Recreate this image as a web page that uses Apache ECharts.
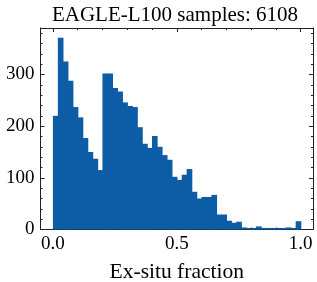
<!DOCTYPE html>
<html><head><meta charset="utf-8">
<script src="https://cdn.jsdelivr.net/npm/echarts@6/dist/echarts.min.js"></script>
<style>html,body{margin:0;padding:0;background:#fff}#c{width:317px;height:282px}</style>
</head><body><div id="c"></div>
<script>
// Histogram of ex-situ fraction, 50 bins from 0 to 1
const binStart = 0.0;
const binWidth = 0.02;
const counts = [220,371,325,288,237,217,177,150,137,115,
                302,302,274,267,246,239,237,198,166,158,
                181,160,144,135,102,96,106,117,73,60,
                63,63,67,29,29,17,13,15,4,3,
                3,6,3,3,3,3,3,4,3,16];
const xMajorTicks = [0, 0.5, 1.0];
const xMinorTicks = [0.1,0.2,0.3,0.4,0.6,0.7,0.8,0.9];
const yMajorTicks = [0, 100, 200, 300];
const yMinorTicks = [20,40,60,80,120,140,160,180,220,240,260,280,320,340,360,380];
const titleText = 'EAGLE-L100 samples: 6108';
const xLabel = 'Ex-situ fraction';

const data = counts.map((c, i) => [binStart + i * binWidth, binStart + (i + 1) * binWidth, c]);

const FONT = 'Liberation Serif';
const AX = '#222';
const XMIN = -0.05, XMAX = 1.05, YMIN = 0, YMAX = 390;

function xAx(pos, ticks, len, labels, line) {
  return {
    type: 'value', position: pos, min: XMIN, max: XMAX,
    axisLine: {show: line, onZero: false, lineStyle: {color: AX, width: 1}},
    axisTick: {show: true, inside: true, length: len, customValues: ticks, lineStyle: {color: AX, width: 1}},
    axisLabel: {show: labels, customValues: ticks, fontFamily: FONT, fontSize: 19, color: '#000', margin: 5,
                formatter: v => v.toFixed(1)},
    splitLine: {show: false},
    name: (labels ? xLabel : ''), nameLocation: 'middle', nameGap: 32,
    nameTextStyle: {fontFamily: FONT, fontSize: 21.5, color: '#000'}
  };
}
function yAx(pos, ticks, len, labels, line) {
  return {
    type: 'value', position: pos, min: YMIN, max: YMAX,
    axisLine: {show: line, onZero: false, lineStyle: {color: AX, width: 1}},
    axisTick: {show: true, inside: true, length: len, customValues: ticks, lineStyle: {color: AX, width: 1}},
    axisLabel: {show: labels, customValues: ticks, fontFamily: FONT, fontSize: 19, color: '#000', margin: 6},
    splitLine: {show: false}
  };
}

const chart = echarts.init(document.getElementById('c'), null, {renderer: 'canvas'});
chart.setOption({
  animation: false,
  title: {text: titleText, left: 170, top: 0, textAlign: 'center',
          textStyle: {fontFamily: FONT, fontSize: 21, fontWeight: 'normal', color: '#000'}},
  grid: {left: 40.5, top: 28, right: 4, bottom: 52.5, outerBoundsMode: 'none'},
  xAxis: [
    xAx('bottom', xMajorTicks, 4, true, true),
    xAx('bottom', xMinorTicks, 2, false, false),
    xAx('top', xMajorTicks, 4, false, true),
    xAx('top', xMinorTicks, 2, false, false)
  ],
  yAxis: [
    yAx('left', yMajorTicks, 4, true, true),
    yAx('left', yMinorTicks, 2, false, false),
    yAx('right', yMajorTicks, 4, false, true),
    yAx('right', yMinorTicks, 2, false, false)
  ],
  series: [{
    type: 'custom', xAxisIndex: 0, yAxisIndex: 0, data: data, z: 1,
    renderItem: (params, api) => {
      const p0 = api.coord([api.value(0), api.value(2)]);
      const p1 = api.coord([api.value(1), 0]);
      return {type: 'rect', shape: {x: p0[0], y: p0[1], width: p1[0] - p0[0] + 0.7, height: p1[1] - p0[1]},
              style: {fill: '#0C5DA5'}};
    }
  }]
});
</script></body></html>
